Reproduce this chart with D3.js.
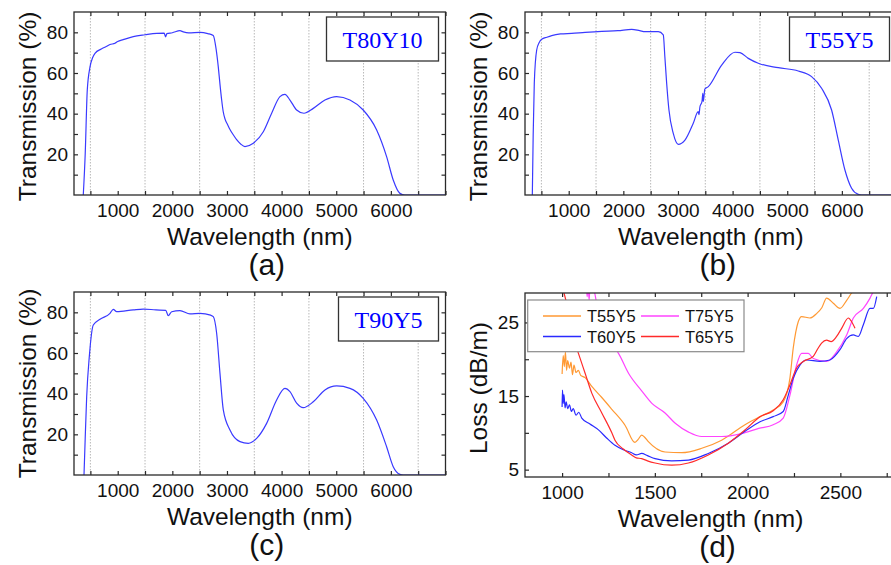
<!DOCTYPE html>
<html>
<head>
<meta charset="utf-8">
<script src="https://cdn.jsdelivr.net/npm/d3@7"></script>
<style>
  body { margin: 0; background: #fff; }
  text { font-family: "Liberation Sans", Arial, sans-serif; fill: #111; }
</style>
</head>
<body>
<svg id="fig" width="891" height="565"></svg>
<script>
// Transmission spectra, [wavelength nm, transmission %]
const t80y10 = [[370,0],[405,20],[443,51.6],[493,63],[540,67.5],[584,69.7],[700,71.8],[790,73],[859,74],[950,74.6],
  [1000,75.5],[1100,76.4],[1285,77.9],[1500,78.8],[1713,79.5],[1850,79.6],[1878,77.8],[1900,79.4],[2000,79.8],
  [2140,80.8],[2200,80.2],[2300,79.7],[2506,80],[2650,79.4],[2749,78.5],[2800,72],[2841,63],[2870,55],[2903,46.7],
  [2930,41.2],[2965,37.3],[3010,34.7],[3055,32.2],[3120,29.4],[3177,27.2],[3250,25.1],[3330,23.8],[3482,25.4],
  [3665,31.1],[3818,40.2],[3970,48.4],[4061,49.5],[4153,46.7],[4275,41.8],[4409,40.2],[4580,42.6],[4793,46.7],
  [5008,48.4],[5251,46.7],[5494,41.8],[5740,32],[5922,18.9],[6043,7.4],[6166,0.8],[6257,0],[7000,0]];

const t55y5 = [[334,0],[350,30],[370,55],[414,71.3],[460,75],[506,76.6],[600,77.6],[689,78.4],[850,79.2],[1055,79.5],
  [1300,80],[1604,80.5],[1900,80.8],[2153,81.5],[2300,80.8],[2396,80.3],[2640,80.3],[2731,78.7],[2760,68],[2793,55],
  [2835,41.8],[2914,30.3],[3005,24.9],[3128,27],[3280,35.3],[3370,41],[3385,39.5],[3402,43.4],[3440,46],[3455,50],
  [3463,46],[3480,49.5],[3490,52],[3555,53.3],[3800,63.9],[4043,70.2],[4135,70],[4287,67.2],[4470,64.8],[4836,62.6],
  [5201,61],[5446,58.2],[5629,52.5],[5812,41.8],[5934,27],[6056,12.3],[6178,3.3],[6300,0.3],[6360,0],[7000,0]];

const t90y5 = [[383,0],[405,18],[432,38.5],[480,58.2],[553,73.8],[676,76.6],[859,79.5],[919,81.5],[981,80.3],
  [1285,81.2],[1468,81.6],[1700,81.2],[1878,81],[1926,78.4],[1988,80.3],[2140,80.8],[2323,79.2],[2506,79.5],
  [2700,78.6],[2749,77.9],[2811,69.7],[2872,50],[2933,32],[3055,22.1],[3238,16.4],[3390,15.6],[3543,18],[3726,25.4],
  [3909,36.9],[4061,42.6],[4153,41],[4275,35.3],[4396,33.1],[4580,36],[4793,41.8],[5008,43.8],[5251,42.6],
  [5494,37.7],[5740,27],[5922,13.9],[6043,4.1],[6166,0.3],[6230,0],[7000,0]];

// Loss spectra, [wavelength nm, loss dB/m]
const lossT55 = [[1000,18],[1006,20.5],[1012,19],[1018,21],[1024,18.5],[1030,19.8],[1040,18.8],[1048,19.6],[1056,17.9],
  [1064,19.2],[1075,18.2],[1088,18.5],[1100,17.8],[1124,17.5],[1160,16.3],[1214,14.8],[1268,13.2],[1340,11],
  [1393,8.7],[1410,9.1],[1429,9.7],[1445,9.4],[1465,8.8],[1555,7.4],[1645,7.3],[1753,7.9],[1860,9],[1986,11.1],
  [2067,12.2],[2138,13.1],[2192,14.2],[2228,17.4],[2246,21.5],[2273,25.1],[2291,25.8],[2336,25.6],[2372,26.2],
  [2400,27],[2426,28.3],[2462,27.6],[2498,26.9],[2534,28],[2561,29],[2600,30]];
const lossT75 = [[1128,31],[1135,28.5],[1140,30],[1146,28],[1152,31],[1200,26],[1268,22],[1304,20.8],[1358,18.1],
  [1429,15.7],[1484,14],[1555,12.7],[1610,11.3],[1682,10.1],[1753,9.5],[1860,9.5],[1968,9.9],[2060,10.6],
  [2138,11.1],[2192,12],[2228,15.1],[2264,19.2],[2291,20.8],[2327,20.8],[2354,20.1],[2426,19.7],[2480,21],
  [2534,23.3],[2570,25.6],[2624,26.9],[2660,28.3],[2678,29.2],[2700,30]];
const lossT60 = [[1000,13.5],[1002,15.8],[1006,14],[1010,15.2],[1016,13.4],[1022,14.2],[1030,13.3],[1040,13.8],
  [1050,12.9],[1060,13.3],[1075,12.4],[1090,12.8],[1106,12],[1150,11.2],[1196,10.4],[1240,9.3],[1285,8.3],
  [1330,7.7],[1375,7.3],[1400,7],[1429,7.2],[1460,6.9],[1501,6.5],[1591,6.2],[1681,6.3],[1788,7.2],[1896,8.6],
  [1986,10.2],[2067,11.5],[2138,12.2],[2192,12.9],[2219,15.1],[2246,17.4],[2282,19.2],[2318,19.9],[2390,19.7],
  [2444,19.9],[2498,21.3],[2534,22.8],[2570,23.3],[2597,23.1],[2624,24.7],[2660,26.9],[2678,26.9],[2696,28.5]];
const lossT65 = [[1000,30],[1040,26],[1079,21.5],[1088,20.8],[1124,18.1],[1160,15.4],[1214,12.7],[1268,10],[1285,9],
  [1330,7.8],[1375,7],[1400,6.6],[1429,6.5],[1460,6.2],[1501,5.9],[1591,5.6],[1681,5.9],[1788,7],[1896,8.6],
  [1986,10.4],[2067,12.2],[2138,13],[2192,14.5],[2228,16.5],[2264,18.8],[2300,19.7],[2354,20.4],[2380,21.5],
  [2399,22.2],[2426,22.6],[2450,22.4],[2480,23.1],[2507,24.2],[2543,25.6],[2561,25.1],[2579,24.2]];

const lossSeries = [
  { name: "T55Y5", data: lossT55, color: "#ff9933" },
  { name: "T75Y5", data: lossT75, color: "#ff44ff" },
  { name: "T60Y5", data: lossT60, color: "#2a2aff" },
  { name: "T65Y5", data: lossT65, color: "#ff2a2a" }
];

const transTicks = d3.range(500, 7001, 500);
const transLabels = [1000, 2000, 3000, 4000, 5000, 6000];
const transGrid = [500, 1500, 2500, 3500, 4500, 5500, 6500];
const transYTicks = d3.range(10, 90, 10);
const transYLabels = [20, 40, 60, 80];
const lossTicks = d3.range(1000, 2801, 250);
const lossLabels = [1000, 1500, 2000, 2500];
const lossYTicks = [5, 10, 15, 20, 25];
const lossYLabels = [5, 15, 25];

const svg = d3.select("#fig");
const frameColor = "#2a2a2a";

// draws one framed panel with inward ticks on all four sides
function panel(box, xDom, yDom, o) {
  const x = d3.scaleLinear().domain(xDom).range([box.left, box.right]);
  const y = d3.scaleLinear().domain(yDom).range([box.bottom, box.top]);
  const g = svg.append("g");

  svg.append("clipPath").attr("id", "clip-" + o.id)
    .append("rect")
    .attr("x", box.left).attr("y", box.top)
    .attr("width", box.right - box.left).attr("height", box.bottom - box.top);

  if (o.grid) {
    g.selectAll(".grid").data(o.grid).join("line")
      .attr("x1", d => x(d)).attr("x2", d => x(d))
      .attr("y1", box.top).attr("y2", box.bottom)
      .attr("stroke", "#b8b8b8").attr("stroke-width", 1)
      .attr("stroke-dasharray", "1.5,1.5");
  }

  const fmtX = d => o.xLabels.includes(d) ? d : "";
  const fmtY = d => o.yLabels.includes(d) ? d : "";

  const bottom = g.append("g").attr("transform", `translate(0,${box.bottom})`)
    .call(d3.axisBottom(x).tickValues(o.xTicks).tickFormat(fmtX).tickSizeInner(-4).tickSizeOuter(0).tickPadding(8.5));
  const top = g.append("g").attr("transform", `translate(0,${box.top})`)
    .call(d3.axisTop(x).tickValues(o.xTicks).tickFormat("").tickSizeInner(-4).tickSizeOuter(0));
  const left = g.append("g").attr("transform", `translate(${box.left},0)`)
    .call(d3.axisLeft(y).tickValues(o.yTicks).tickFormat(fmtY).tickSizeInner(-4).tickSizeOuter(0).tickPadding(6));
  const right = g.append("g").attr("transform", `translate(${box.right},0)`)
    .call(d3.axisRight(y).tickValues(o.yTicks).tickFormat("").tickSizeInner(-4).tickSizeOuter(0));

  [bottom, top, left, right].forEach(a => {
    a.select(".domain").remove();
    a.selectAll("line").attr("stroke", frameColor).attr("stroke-width", 1.2);
    a.selectAll("text").style("font-size", "19px").attr("fill", "#111")
      .style("font-family", '"Liberation Sans", Arial, sans-serif');
  });

  const line = d3.line().x(d => x(d[0])).y(d => y(d[1])).curve(d3.curveMonotoneX);
  const lines = g.append("g").attr("clip-path", `url(#clip-${o.id})`);
  o.series.forEach(s => {
    lines.append("path").datum(s.data)
      .attr("fill", "none").attr("stroke", s.color)
      .attr("stroke-width", 1.2).attr("stroke-linejoin", "round")
      .attr("d", line);
  });

  g.append("rect")
    .attr("x", box.left).attr("y", box.top)
    .attr("width", box.right - box.left).attr("height", box.bottom - box.top)
    .attr("fill", "none").attr("stroke", frameColor).attr("stroke-width", 1.3);

  const cx = (box.left + box.right) / 2;
  const cy = (box.top + box.bottom) / 2;
  g.append("text")
    .attr("x", cx).attr("y", box.bottom + 50)
    .attr("text-anchor", "middle").style("font-size", "24.5px")
    .text("Wavelength (nm)");
  g.append("text")
    .attr("transform", `translate(${box.left - 38},${cy + o.yTitleShift}) rotate(-90)`)
    .attr("text-anchor", "middle").style("font-size", "24.5px")
    .text(o.yTitle);
  g.append("text")
    .attr("x", cx + 7).attr("y", box.bottom + 80)
    .attr("text-anchor", "middle").style("font-size", "30px")
    .text(o.tag);

  if (o.sample) {
    const tag = g.append("g");
    const rect = tag.append("rect");
    const t = tag.append("text")
      .attr("y", box.top + 36)
      .attr("text-anchor", "middle")
      .style("font-family", '"Liberation Serif", "Times New Roman", serif')
      .style("font-size", "24px")
      .style("fill", "#0000ff")
      .text(o.sample);
    const w = t.node().getComputedTextLength() + 32;
    const rx = box.right - 7 - w;
    rect.attr("x", rx).attr("y", box.top + 5).attr("width", w).attr("height", 44)
      .attr("fill", "#fff").attr("stroke", "#333").attr("stroke-width", 1.3);
    t.attr("x", rx + w / 2);
  }
  return { x, y, g };
}

const blue = "#3a3aff";

panel({ left: 74, right: 445.5, top: 12, bottom: 195 }, [200, 7000], [0, 90], {
  id: "a", grid: transGrid, xTicks: transTicks, xLabels: transLabels, yTicks: transYTicks, yLabels: transYLabels,
  series: [{ data: t80y10, color: blue }], yTitle: "Transmission (%)", yTitleShift: 3, tag: "(a)", sample: "T80Y10"
});
panel({ left: 525, right: 896.5, top: 12, bottom: 195 }, [200, 7000], [0, 90], {
  id: "b", grid: transGrid, xTicks: transTicks, xLabels: transLabels, yTicks: transYTicks, yLabels: transYLabels,
  series: [{ data: t55y5, color: blue }], yTitle: "Transmission (%)", yTitleShift: 3, tag: "(b)", sample: "T55Y5"
});
panel({ left: 74, right: 445.5, top: 292, bottom: 475 }, [200, 7000], [0, 90], {
  id: "c", grid: transGrid, xTicks: transTicks, xLabels: transLabels, yTicks: transYTicks, yLabels: transYLabels,
  series: [{ data: t90y5, color: blue }], yTitle: "Transmission (%)", yTitleShift: 0, tag: "(c)", sample: "T90Y5"
});
const pd = panel({ left: 525, right: 896, top: 293, bottom: 477 }, [800, 2800], [4, 29], {
  id: "d", xTicks: lossTicks, xLabels: lossLabels, yTicks: lossYTicks, yLabels: lossYLabels,
  series: lossSeries, yTitle: "Loss (dB/m)", yTitleShift: 3, tag: "(d)"
});

// legend for panel (d)
const leg = pd.g.append("g");
leg.append("rect")
  .attr("x", 527.7).attr("y", 300).attr("width", 216.3).attr("height", 51.7)
  .attr("fill", "#fff").attr("stroke", "#8a8a8a").attr("stroke-width", 1.2);
const legendOrder = ["T55Y5", "T75Y5", "T60Y5", "T65Y5"];
legendOrder.forEach((name, i) => {
  const s = lossSeries.find(d => d.name === name);
  const col = i % 2, row = Math.floor(i / 2);
  const lx = 543 + col * 98, ly = 316 + row * 20.5;
  leg.append("line").attr("x1", lx).attr("x2", lx + 38).attr("y1", ly).attr("y2", ly)
    .attr("stroke", s.color).attr("stroke-width", 1.5);
  leg.append("text").attr("x", lx + 44).attr("y", ly + 6)
    .style("font-size", "16.5px").text(name);
});
</script>
</body>
</html>
